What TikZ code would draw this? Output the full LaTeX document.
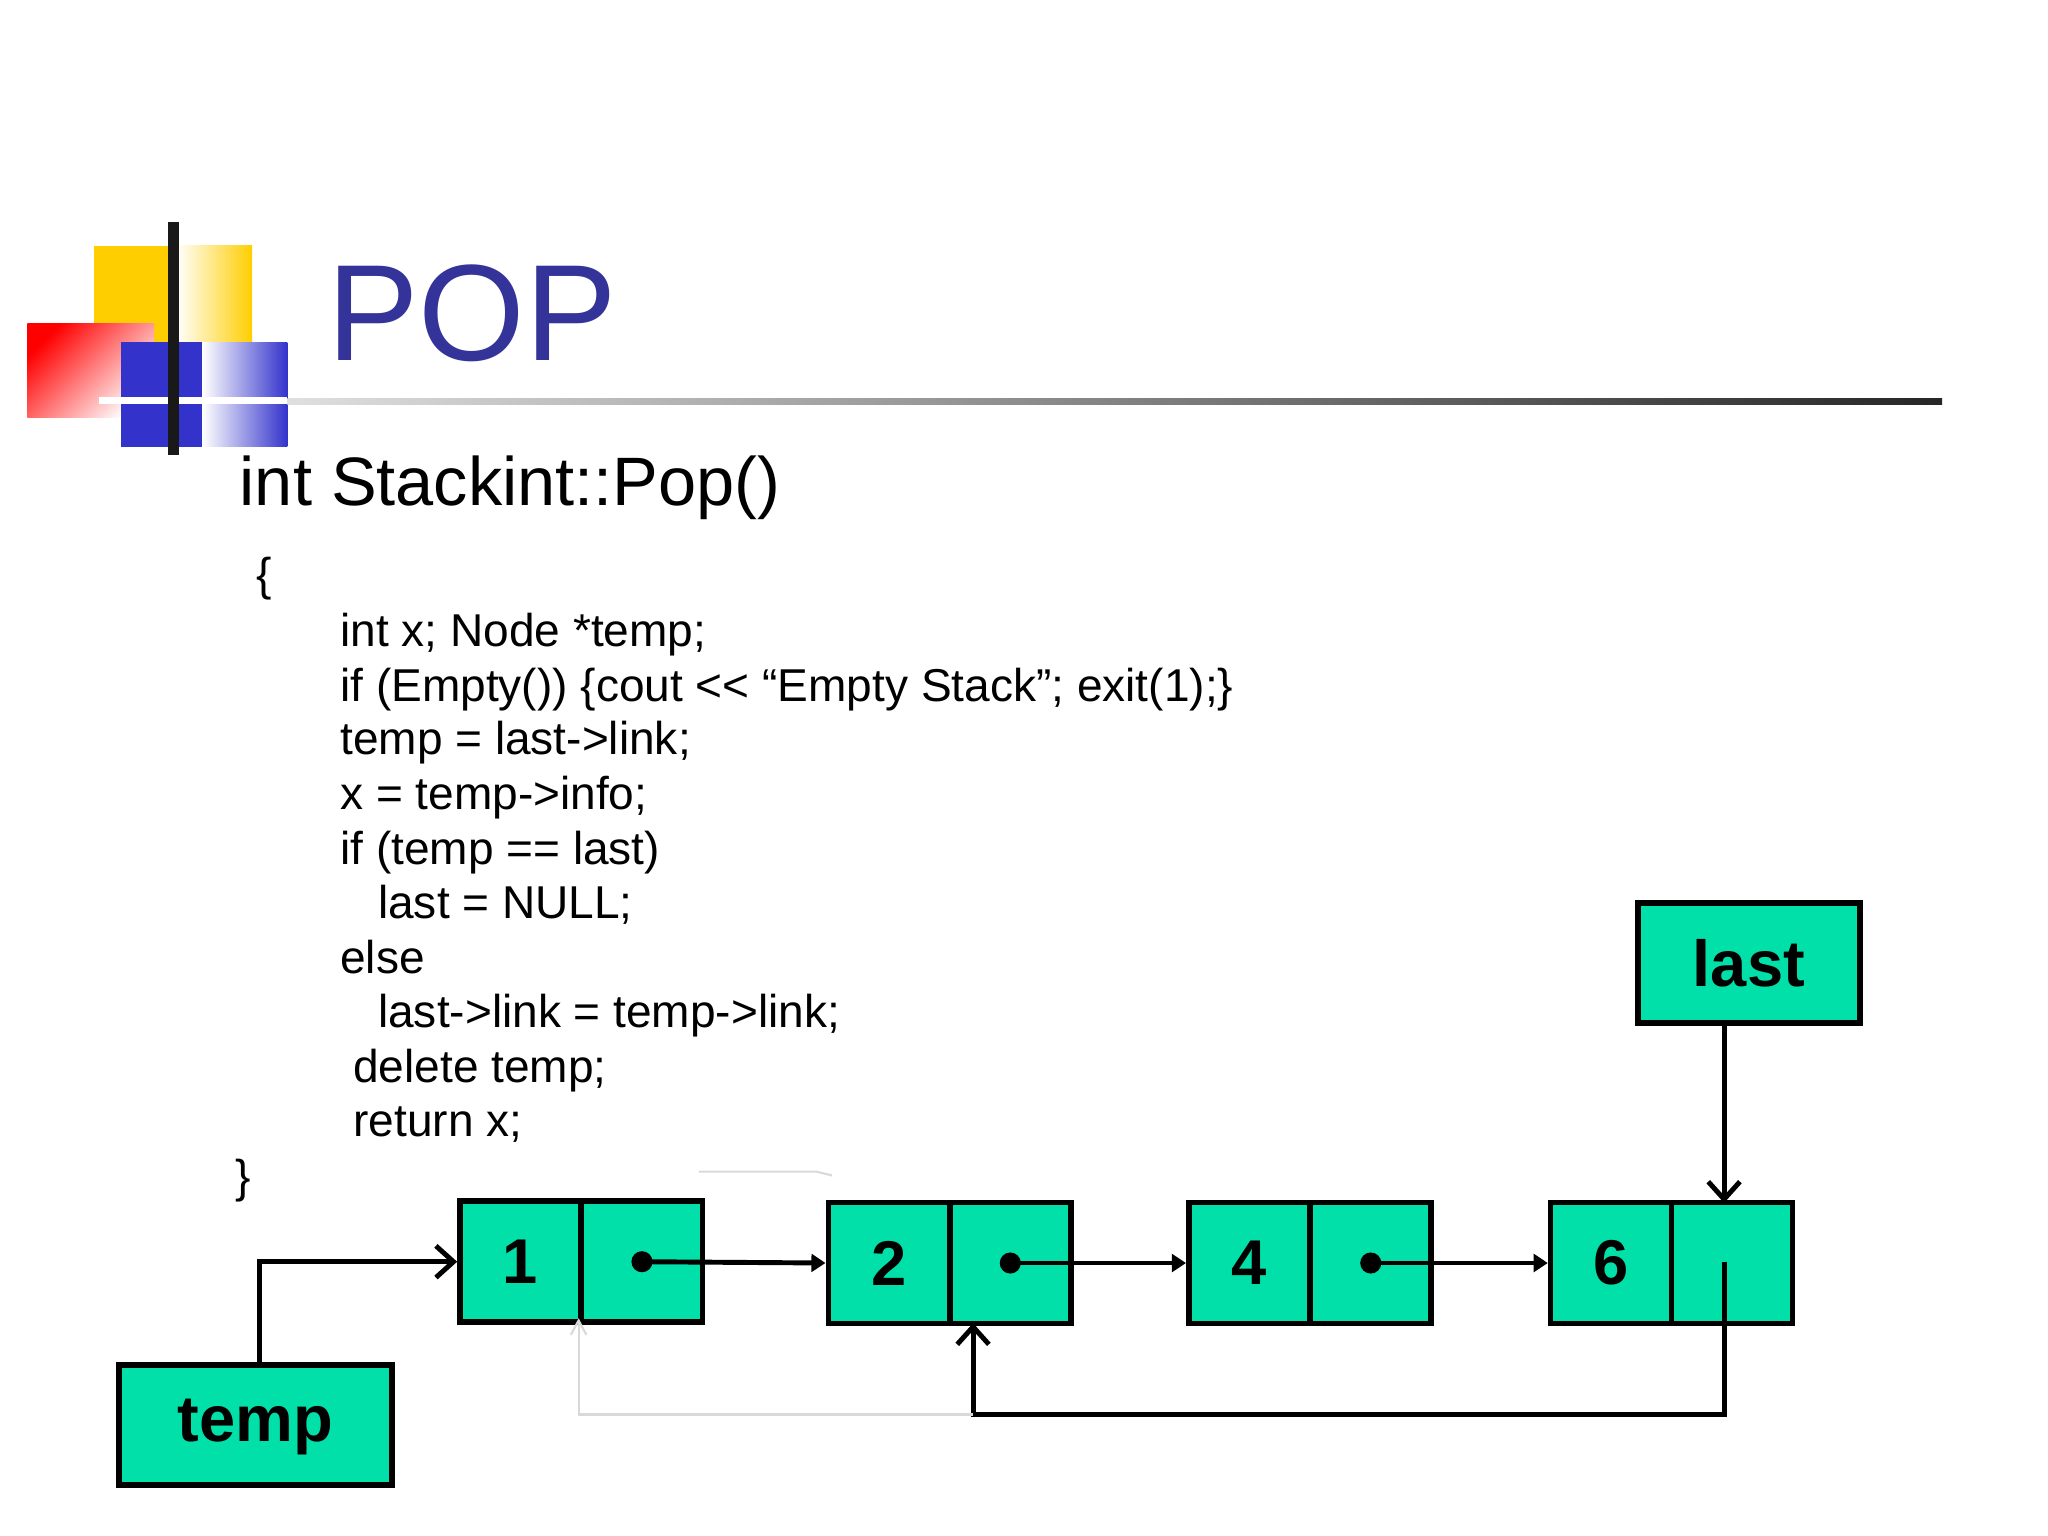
\documentclass[tikz,border=0pt]{standalone}
\usepackage{fontspec}
\setmainfont{Liberation Sans}
\usetikzlibrary{calc, positioning, arrows.meta}
\definecolor{cellgreen}{RGB}{0,224,168}
\definecolor{titleblue}{RGB}{51,51,153}
\definecolor{logoblue}{RGB}{51,51,204}
\definecolor{logoyellow}{RGB}{255,206,0}
\begin{document}
\begin{tikzpicture}[x=0.01306cm,y=-0.01306cm]
    \tikzstyle{cell}=[draw,line width=1.6pt,fill=cellgreen,minimum width=1.21cm,minimum height=1.21cm,inner sep=0pt,font=\fontsize{18}{18}\selectfont\bfseries]
    \tikzstyle{var}=[draw,line width=1.6pt,fill=cellgreen,minimum height=1.2cm,inner sep=0pt,font=\fontsize{18.5}{18.5}\selectfont\bfseries]
    \tikzstyle{code}=[anchor=base west,inner sep=0pt,font=\fontsize{13.1}{13.1}\selectfont]
    \tikzstyle{ptr}=[line width=1.4pt,-{Triangle[length=4pt,width=5pt]}]
    \tikzstyle{open}=[line width=1.4pt,-{Straight Barb[length=5pt,width=9pt]}]
    \useasboundingbox (0,0) rectangle (1568,1176);

    % logo
    \fill[logoyellow] (72,188) rectangle (135,262);
    \shade[left color=white,right color=logoyellow] (135,188) rectangle (193,262);
    \shade[left color=red,right color=white,shading angle=45] (21,248) rectangle (118,320);
    \fill[logoblue] (93,262) rectangle (155,342);
    \shade[left color=white,right color=logoblue] (155,262) rectangle (220,342);
    \draw[white,line width=2pt] (76,307) -- (220,307);
    \shade[left color=gray!25,right color=black!85] (220,305) rectangle (1487,310);
    \draw[black!90,line width=3pt] (133,170) -- (133,348);
    \node[anchor=base west,inner sep=0pt,text=titleblue,font=\fontsize{39}{39}\selectfont] (title) at (250,276) {POP};

    % code
    \node[anchor=base west,inner sep=0pt,font=\fontsize{19.5}{19.5}\selectfont] (head) at (183,387) {int Stackint::Pop()};
    \node[code] (ob) at (196,452) {\{};
    \node[code] (l1) at (260,495) {int x; Node *temp;};
    \node[code] (l2) at (260,537) {if (Empty()) \{cout {<}{<} “Empty Stack”; exit(1);\}};
    \node[code] (l3) at (260,578) {temp = last->link;};
    \node[code] (l4) at (260,620) {x = temp->info;};
    \node[code] (l5) at (260,662) {if (temp == last)};
    \node[code] (l6) at (289,703) {last = NULL;};
    \node[code] (l7) at (260,745) {else};
    \node[code] (l8) at (289,787) {last->link = temp->link;};
    \node[code] (l9) at (270,829) {delete temp;};
    \node[code] (l10) at (270,870) {return x;};
    \node[code] (cb) at (180,913) {\}};

    % list
    \node[cell] (d1) at (398.5,966) {1};
    \node[cell] (p1) at (491.5,966) {};
    \node[cell] (d2) at (680.5,967) {2};
    \node[cell] (p2) at (773.5,967) {};
    \node[cell] (d4) at (956.5,967) {4};
    \node[cell] (p4) at (1049.5,967) {};
    \node[cell] (d6) at (1233.5,967) {6};
    \node[cell] (p6) at (1326,967) {};
    \node[var,minimum width=2.22cm] (last) at (1339,737.5) {last};
    \node[var,minimum width=2.73cm,text depth=0.5ex] (temp) at (195.5,1091) {temp};

    \foreach \a/\b in {p1/d2,p2/d4,p4/d6}{
        \fill (\a.center) circle (3pt);
        \draw[ptr] (\a.center) -- (\b.west);
    }
    \draw[open] (199,1045) |- (d1.west);
    \draw[open] (last.south-|1320,0) -- (1320,921);
    \coordinate (turn) at (745,1083);
    \draw[open] (1320,966) |- (turn) -- (745,1013);
    \draw[gray!30,line width=0.6pt] (turn) -- (443,1083) -- (443,1011);
    \draw[gray!30,line width=0.6pt] (437,1022) -- (443,1011) -- (449,1022);
    \draw[gray!30,line width=0.6pt] (535,897) -- (625,897) -- (637,900);
\end{tikzpicture}
\end{document}
